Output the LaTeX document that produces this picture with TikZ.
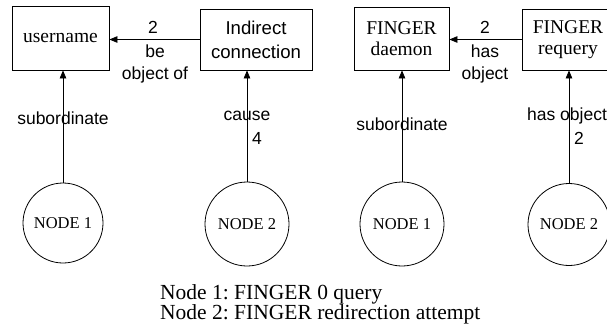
\documentclass[tikz,border=0pt]{standalone}
\usepackage{fontspec}
\setmainfont{Liberation Serif}
\newfontfamily\hv{Liberation Sans}
\usetikzlibrary{arrows.meta}
\begin{document}
\begin{tikzpicture}[x=1pt,y=-1pt,
  tbox/.style={draw,line width=0.8pt,inner sep=0pt,align=center},
  cnode/.style={draw,circle,line width=0.8pt,inner sep=0pt,font=\fontsize{16.5}{18}\selectfont},
  arr/.style={line width=0.8pt,-{Triangle[length=8pt,width=6.5pt]}},
  lbl/.style={font=\hv\fontsize{17.5}{21.5}\selectfont,inner sep=0pt,align=center},
  ]
\useasboundingbox (0,0) rectangle (607,330);
% boxes
\node[tbox,minimum width=97pt,minimum height=64pt,font=\fontsize{19.5}{22}\selectfont] (b1) at (60.5,38) {username};
\node[tbox,minimum width=112pt,minimum height=61pt,font=\hv\fontsize{18.6}{24}\selectfont] (b2) at (256,39.5) {Indirect\\connection};
\node[tbox,minimum width=95pt,minimum height=63pt,font=\fontsize{19.5}{21}\selectfont] (b3) at (401.5,38.5) {FINGER\\daemon};
\node[tbox,minimum width=92pt,minimum height=61pt,font=\fontsize{19.5}{21}\selectfont] (b4) at (568,39.5) {FINGER\\requery};
% circles
\node[cnode,minimum size=80pt] (c1) at (63,223) {NODE 1};
\node[cnode,minimum size=84pt] (c2) at (247,224) {NODE 2};
\node[cnode,minimum size=84pt] (c3) at (402,224) {NODE 1};
\node[cnode,minimum size=82pt] (c4) at (569,224.5) {NODE 2};
% labels
\node[lbl] (l1) at (63,118) {subordinate};
\node[lbl] (l2) at (247,116) {cause};
\node[lbl] (l3) at (257,138) {4};
\node[lbl] (l4) at (402,124) {subordinate};
\node[lbl] (l5) at (567,116) {has object};
\node[lbl] (l6) at (579,138) {2};
\node[lbl] (l7) at (153,27) {2};
\node[lbl] (l8) at (155,64) {be\\object of};
\node[lbl] (l9) at (485,27) {2};
\node[lbl] (l10) at (485,64) {has\\object};
% arrows
\draw[arr] (b2.west) -- (b2.west -| b1.east);
\draw[arr] (b4.west) -- (b4.west -| b3.east);
\draw[arr] (c1.north) -- (c1.north |- b1.south);
\draw[arr] (c2.north) -- (c2.north |- b2.south);
\draw[arr] (c3.north) -- (c3.north |- b3.south);
\draw[arr] (c4.north) -- (c4.north |- b4.south);
% caption
\node[anchor=north west,inner sep=0pt,align=left,font=\frenchspacing\fontsize{21.5}{20.5}\selectfont] (cap) at (160,284) {Node 1: FINGER 0 query\\Node 2: FINGER redirection attempt};
\end{tikzpicture}
\end{document}
